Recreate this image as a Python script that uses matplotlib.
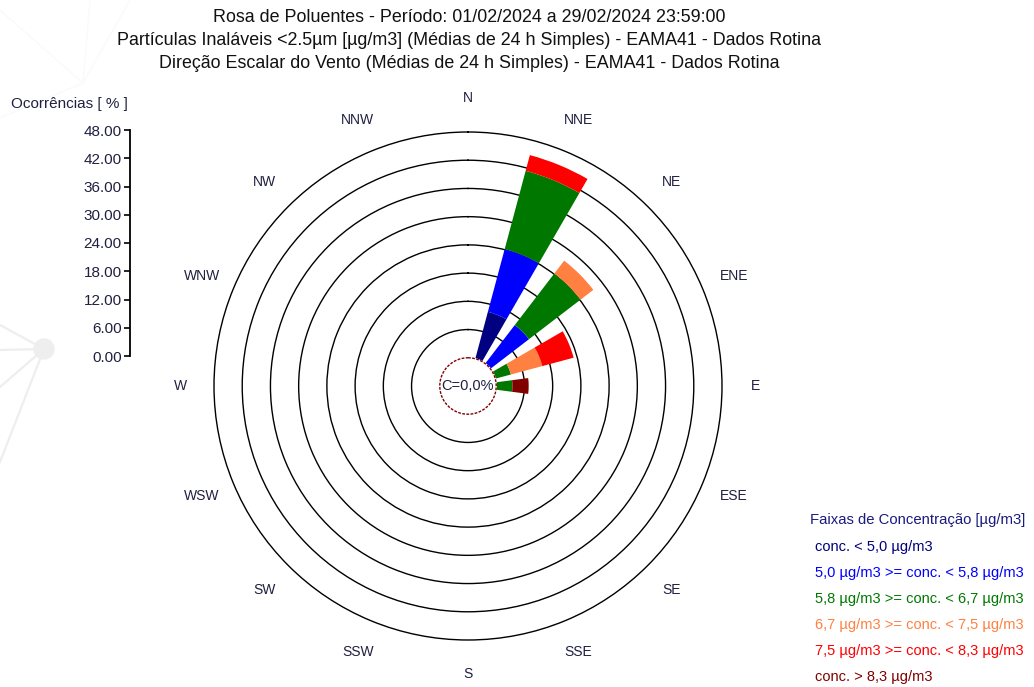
import numpy as np
import matplotlib
matplotlib.use("Agg")
import matplotlib.pyplot as plt

plt.rcParams['font.family'] = ['Liberation Sans', 'DejaVu Sans']

# 16 wind sectors, clockwise from north
directions = ['N', 'NNE', 'NE', 'ENE', 'E', 'ESE', 'SE', 'SSE',
              'S', 'SSW', 'SW', 'WSW', 'W', 'WNW', 'NW', 'NNW']

# occurrences [%] per concentration class and sector
conc_1 = [0, 10.34, 0, 0, 0, 0, 0, 0, 0, 0, 0, 0, 0, 0, 0, 0]
conc_2 = [0, 13.79, 10.34, 0, 0, 0, 0, 0, 0, 0, 0, 0, 0, 0, 0, 0]
conc_3 = [0, 17.24, 13.79, 3.45, 3.45, 0, 0, 0, 0, 0, 0, 0, 0, 0, 0, 0]
conc_4 = [0, 0, 3.45, 6.90, 0, 0, 0, 0, 0, 0, 0, 0, 0, 0, 0, 0]
conc_5 = [0, 3.45, 0, 6.90, 0, 0, 0, 0, 0, 0, 0, 0, 0, 0, 0, 0]
conc_6 = [0, 0, 0, 0, 3.45, 0, 0, 0, 0, 0, 0, 0, 0, 0, 0, 0]

class_labels = ['conc. < 5,0 µg/m3',
                '5,0 µg/m3 >= conc. < 5,8 µg/m3',
                '5,8 µg/m3 >= conc. < 6,7 µg/m3',
                '6,7 µg/m3 >= conc. < 7,5 µg/m3',
                '7,5 µg/m3 >= conc. < 8,3 µg/m3',
                'conc. > 8,3 µg/m3']
class_colors = ['#000080', '#0000ff', '#007800', '#ff8040', '#ff0000', '#800000']

calm_pct = 0.0
ring_step = 6
ring_max = 48

W, H = 1034, 687
fig = plt.figure(figsize=(W / 100, H / 100), dpi=100)

# faint watermark in the background
bg = fig.add_axes([0, 0, 1, 1])
bg.set_xlim(0, W)
bg.set_ylim(H, 0)
bg.axis('off')
for ex, ey in [(0, 325), (0, 350), (0, 387), (0, 462)]:
    bg.plot([44, ex], [349, ey], color='#eeeeee', lw=1.6, zorder=0)
for ex, ey in [(0, 10), (90, 0), (130, 0), (0, 118)]:
    bg.plot([83, ex], [83, ey], color='#fafafa', lw=1.0, zorder=0)
bg.add_patch(plt.Circle((44, 349), 10, color='#eeeeee', zorder=0))

# rose
offset = ring_step  # calm circle occupies the first ring
cx, cy, rad = 468, 386, 256
ax = fig.add_axes([(cx - rad) / W, (H - cy - rad) / H, 2 * rad / W, 2 * rad / H],
                  projection='polar')
ax.set_theta_zero_location('N')
ax.set_theta_direction(-1)
rmax = ring_max + offset
ax.set_ylim(0, rmax * rad / 254)
ax.set_yticks(np.arange(2 * ring_step, rmax + 0.1, ring_step))
ax.set_yticklabels([])
ax.set_xticks([])
ax.tick_params(length=0)
ax.grid(True, axis='y', color='black', lw=1.0, ls='-')
ax.spines['polar'].set_visible(False)
ax.patch.set_alpha(0)

theta = np.deg2rad(np.arange(16) * 22.5)
width = np.deg2rad(15)
bottom = np.full(16, float(offset))
for vals, col in zip([conc_1, conc_2, conc_3, conc_4, conc_5, conc_6], class_colors):
    vals = np.array(vals)
    ax.bar(theta, vals, width=width, bottom=bottom, color=col, edgecolor='none', zorder=3)
    bottom = bottom + vals

t = np.linspace(0, 2 * np.pi, 200)
ax.fill(t, np.full_like(t, offset), color='white', zorder=4)
ax.plot(t, np.full_like(t, offset), color='#800000', lw=1.0, ls=(0, (2, 1)), zorder=5)
calm_txt = ('C=%.1f%%' % calm_pct).replace('.', ',')
ax.text(0, 0, calm_txt, ha='center', va='center', fontsize=10.5,
        color='#202040', zorder=6)

for th, d in zip(theta, directions):
    ax.text(th, rmax * 288 / 254, d, ha='center', va='center', fontsize=10,
            color='#202040', clip_on=False)

# occurrence scale
sc = fig.add_axes([130 / W, (H - 356) / H, 0.0005, 226 / H])
sc.set_ylim(0, ring_max)
sc.set_yticks(np.arange(0, ring_max + 0.1, ring_step))
sc.set_yticklabels(['%.2f' % v for v in np.arange(0, ring_max + 0.1, ring_step)],
                   fontsize=11, color='#202040')
sc.set_xticks([])
for s in ['top', 'right', 'bottom']:
    sc.spines[s].set_visible(False)
sc.spines['left'].set_linewidth(1.3)
sc.tick_params(axis='y', length=4, width=1.2, pad=2)
sc.patch.set_alpha(0)
fig.text(128 / W, 1 - 104 / H, 'Ocorrências [ % ]', ha='right', va='center',
         fontsize=11, color='#202040')

# titles
titles = ['Rosa de Poluentes - Período: 01/02/2024 a 29/02/2024 23:59:00',
          'Partículas Inaláveis <2.5µm [µg/m3] (Médias de 24 h Simples) - EAMA41 - Dados Rotina',
          'Direção Escalar do Vento (Médias de 24 h Simples) - EAMA41 - Dados Rotina']
for i, s in enumerate(titles):
    fig.text(469 / W, 1 - (18 + 22.5 * i) / H, s, ha='center', va='center',
             fontsize=12.9, color='#111111')

# legend
fig.text(810 / W, 1 - 520 / H, 'Faixas de Concentração [µg/m3]', ha='left', va='center',
         fontsize=10.7, color='#1a1a80')
for i, (lab, col) in enumerate(zip(class_labels, class_colors)):
    fig.text(815 / W, 1 - (547 + 26 * i) / H, lab, ha='left', va='center',
             fontsize=10.5, color=col)

fig.savefig('out.png', dpi=100)
